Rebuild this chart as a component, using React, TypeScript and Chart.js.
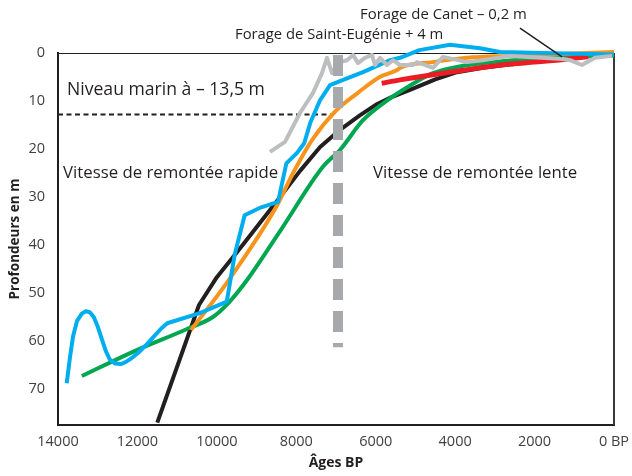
import React, { useEffect, useRef } from "react";
import { Chart, registerables } from "chart.js";

Chart.register(...registerables);

// ---- Data (ages BP, depths in m) ----
const blackAges = [11500, 10450, 10000, 9350, 8500, 7900, 7400, 6900, 6400, 6000, 5600, 5137, 4500, 3953, 3300, 2745, 2000, 1400, 700, 0];
const blackDepths = [77, 52.5, 46.7, 40, 31, 24.5, 19.6, 16, 13, 10.8, 9.2, 7.7, 5.5, 4.0, 3.1, 2.5, 1.8, 1.2, 0.7, 0.3];

const greenAges = [13400, 12100, 10750, 10100, 9700, 9240, 8400, 7330, 6900, 6320, 5700, 5100, 4558, 3953, 2000, 0];
const greenDepths = [67.3, 62.2, 57.5, 55, 52, 47.3, 37, 23.7, 20.2, 14, 9.8, 6.6, 4.2, 2.9, 1.2, 0.5];

const orangeAges = [10650, 9700, 8500, 8080, 7600, 7000, 6450, 5900, 5450, 5389, 4558, 3700, 2619, 0];
const orangeDepths = [57.7, 47.3, 32, 25, 18.1, 12, 8.3, 5, 3.5, 3.1, 1.9, 1.0, 0.6, -0.2];

const redAges = [5850, 5389, 4130, 2619, 2000, 650];
const redDepths = [6.3, 5.6, 4.0, 2.3, 1.9, 0.8];

const blueAges = [13780, 13700, 13620, 13520, 13400, 13300, 13200, 13100, 13000, 12900, 12800, 12700, 12560, 12420, 12300, 12150, 12000, 11800, 11600, 11400, 11250, 10430, 9750, 9550, 9300, 8900, 8460, 8250, 7980, 7800, 7650, 7400, 7150, 6820, 6320, 5640, 5389, 4900, 4130, 3374, 2870, 1800, 0];
const blueDepths = [68.8, 63.5, 59, 55.8, 54.3, 53.8, 54, 55, 57, 59.5, 62, 63.8, 64.7, 64.8, 64.4, 63.6, 62.6, 61, 59.2, 57.4, 56.3, 54.2, 51.8, 42, 33.8, 32.2, 31, 23, 20.8, 18.8, 14.6, 9.8, 6.7, 5.6, 4, 1.5, 1.0, -0.6, -1.7, -1, -0.2, 0, 0.3];

const grayAges = [8662, 8284, 7907, 7579, 7353, 7227, 7101, 6950, 6723, 6572, 6446, 6270, 6094, 6018, 5892, 5716, 5565, 5389, 5061, 4960, 4558, 4306, 3701, 3299, 2619, 1284, 1108, 806, 478, 50];
const grayDepths = [20.6, 18.5, 12.5, 8.3, 4.2, 1.0, 4.2, 2, 1.5, 0.4, 2.1, 1.0, 0.4, 2.5, 1.0, 2.5, 1.5, 2.5, 2.5, 1.9, 3.1, 0.8, 1.9, 1.5, 0.6, 1.25, 1.5, 2.5, 1.0, 0.6];

const canetPointerAges = [2367, 1309];
const canetPointerDepths = [-5.2, 0.8];

const transitionAges = [6950, 6950];
const transitionDepths = [0.4, 61.3];

const seaLevelAges = [14000, 7100];
const seaLevelDepths = [12.8, 12.8];

const xTickValues = [14000, 12000, 10000, 8000, 6000, 4000, 2000, 0];
const yTickValues = [0, 10, 20, 30, 40, 50, 60, 70];

const annotationTexts = ["Forage de Canet – 0,2 m", "Forage de Saint-Eugénie + 4 m", "Niveau marin à – 13,5 m", "Vitesse de remontée rapide", "Vitesse de remontée lente"];
const annotationAges = [6396, 9543, 13773, 13874, 6068];
const annotationDepths = [-7.9, -3.75, 7.7, 25, 25];
const annotationSizes = [14.9, 14.8, 17.6, 16.8, 16.8];

const zip = (xs: number[], ys: number[]) => xs.map((x, i) => ({ x, y: ys[i] }));

const FONT = "'Open Sans', 'DejaVu Sans', sans-serif";
const TEXT = "#231f20";

export default function App() {
  const ref = useRef<HTMLCanvasElement | null>(null);

  useEffect(() => {
    if (!ref.current) return;
    const line = (data: any, color: string, width: number, order: number, extra: any = {}) => ({
      data,
      borderColor: color,
      backgroundColor: color,
      borderWidth: width,
      showLine: true,
      pointRadius: 0,
      pointHoverRadius: 0,
      tension: 0,
      clip: false,
      order,
      borderJoinStyle: "round",
      borderCapStyle: "butt",
      ...extra,
    });
    const smooth = { cubicInterpolationMode: "monotone" };

    const annotPlugin = {
      id: "annot",
      beforeDatasetsDraw(chart: any) {
        const { ctx, chartArea } = chart;
        ctx.save();
        ctx.strokeStyle = "#231f20";
        ctx.lineWidth = 1;
        ctx.beginPath();
        ctx.moveTo(chartArea.left, chartArea.top + 0.5);
        ctx.lineTo(chartArea.right, chartArea.top + 0.5);
        ctx.stroke();
        ctx.strokeStyle = "#3a3a3a";
        ctx.lineWidth = 2;
        ctx.beginPath();
        ctx.moveTo(chartArea.right, chartArea.top);
        ctx.lineTo(chartArea.right, chartArea.bottom);
        ctx.stroke();
        ctx.restore();
      },
      afterDatasetsDraw(chart: any) {
        const { ctx } = chart;
        const xs = chart.scales.x;
        const ys = chart.scales.y;
        ctx.save();
        ctx.fillStyle = TEXT;
        ctx.textAlign = "left";
        ctx.textBaseline = "middle";
        annotationTexts.forEach((t, i) => {
          ctx.font = `${annotationSizes[i]}px ${FONT}`;
          ctx.fillText(t, xs.getPixelForValue(annotationAges[i]), ys.getPixelForValue(annotationDepths[i]));
        });
        ctx.restore();
      },
    };

    const chart = new Chart(ref.current, {
      type: "scatter",
      data: {
        datasets: [
          line(zip(transitionAges, transitionDepths), "#a7a9ac", 10, 0, { borderDash: [21, 11] }),
          line(zip(canetPointerAges, canetPointerDepths), "#231f20", 1.5, 1),
          line(zip(grayAges, grayDepths), "#bcbec0", 4, 2),
          line(zip(blueAges, blueDepths), "#00aeef", 4, 3),
          line(zip(redAges, redDepths), "#ed1c24", 5, 4, smooth),
          line(zip(orangeAges, orangeDepths), "#f7941d", 4, 5, smooth),
          line(zip(greenAges, greenDepths), "#00a650", 4, 6, smooth),
          line(zip(blackAges, blackDepths), "#231f20", 4, 7),
          line(zip(seaLevelAges, seaLevelDepths), "#231f20", 2, 8, { borderDash: [5, 3.5] }),
        ],
      } as any,
      options: {
        animation: false,
        responsive: false,
        maintainAspectRatio: false,
        layout: { padding: { top: 53, right: 18, left: 0, bottom: 0 } },
        plugins: { legend: { display: false }, tooltip: { enabled: false } },
        scales: {
          x: {
            type: "linear",
            reverse: true,
            min: 0,
            max: 14000,
            afterBuildTicks: (s: any) => {
              s.ticks = xTickValues.map((v) => ({ value: v }));
            },
            afterFit: (s: any) => {
              s.height = 51;
              s.paddingLeft = 0;
              s.paddingRight = 0;
            },
            grid: { display: false, drawTicks: false },
            border: { display: true, color: "#231f20", width: 2 },
            ticks: {
              padding: 8,
              maxRotation: 0,
              autoSkip: false,
              color: "#414042",
              font: { family: FONT, size: 14.5 },
              callback: (v: any) => (Number(v) === 0 ? "0 BP" : String(v)),
            },
            title: {
              display: true,
              text: "Âges BP",
              color: TEXT,
              font: { family: FONT, size: 14, weight: "bold" },
              padding: { top: 0, bottom: 5 },
            },
          },
          y: {
            type: "linear",
            reverse: true,
            min: 0,
            max: 77.5,
            afterBuildTicks: (s: any) => {
              s.ticks = yTickValues.map((v) => ({ value: v }));
            },
            afterFit: (s: any) => {
              s.width = 58;
              s.paddingTop = 0;
              s.paddingBottom = 0;
            },
            grid: { display: false, drawTicks: false },
            border: { display: true, color: "#231f20", width: 2 },
            ticks: {
              padding: 13,
              color: "#414042",
              font: { family: FONT, size: 14.5 },
            },
            title: {
              display: true,
              text: "Profondeurs en m",
              color: TEXT,
              font: { family: FONT, size: 13.5, weight: "bold" },
              padding: { top: 7, bottom: 0 },
            },
          },
        },
      } as any,
      plugins: [annotPlugin],
    });
    return () => chart.destroy();
  }, []);

  return (
    <div style={{ position: "absolute", left: 0, top: 0, width: 632, height: 476, background: "#fff" }}>
      <canvas ref={ref} width={632} height={476} style={{ width: 632, height: 476, display: "block" }} />
    </div>
  );
}
